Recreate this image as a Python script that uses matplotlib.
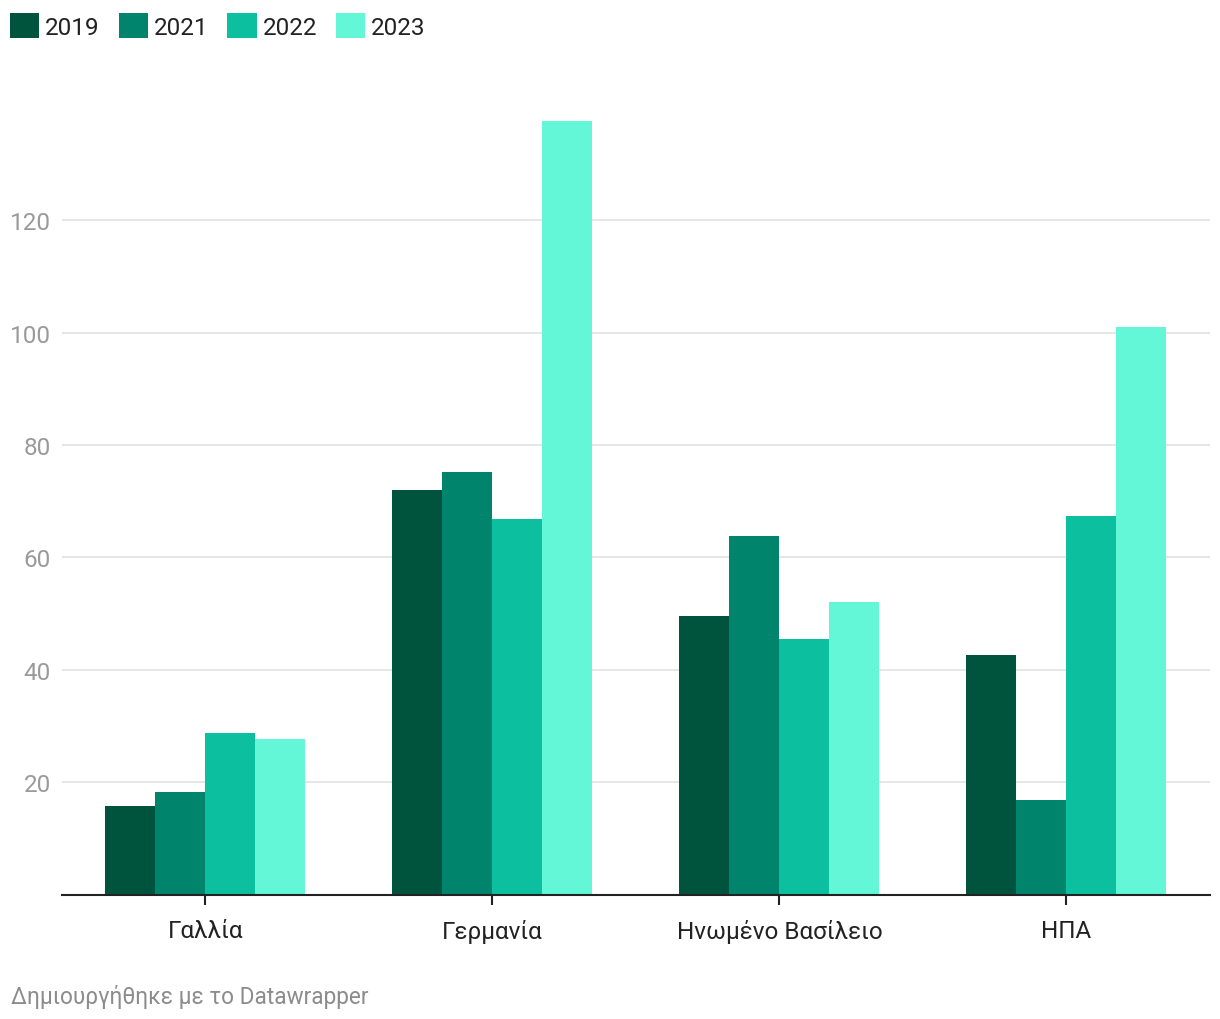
import numpy as np
import matplotlib.pyplot as plt

plt.rcParams["font.family"] = ["Roboto", "DejaVu Sans"]

categories = ["Γαλλία", "Γερμανία", "Ηνωμένο Βασίλειο", "ΗΠΑ"]
years = ["2019", "2021", "2022", "2023"]
values_2019 = [15.8, 72.0, 49.6, 42.7]
values_2021 = [18.3, 75.2, 63.8, 16.9]
values_2022 = [28.8, 66.8, 45.5, 67.4]
values_2023 = [27.7, 137.6, 52.1, 101.0]
y_ticks = [20, 40, 60, 80, 100, 120]

series = [values_2019, values_2021, values_2022, values_2023]
colors = ["#00543e", "#00846c", "#0bbf9f", "#63f6d7"]

fig = plt.figure(figsize=(12.2, 10.2), dpi=100)
ax = fig.add_axes([0.0508, 0.1216, 0.941, 0.772])

x = np.arange(len(categories))
width = 50 / 287
for i, (vals, col, yr) in enumerate(zip(series, colors, years)):
    ax.bar(x + (i - 1.5) * width, vals, width, color=col, label=yr, zorder=3)

ax.set_xlim(-0.5, len(categories) - 0.5)
ax.set_ylim(0, 140)
ax.set_yticks(y_ticks)
ax.set_yticklabels([str(t) for t in y_ticks])
ax.grid(axis="y", color="#e2e2e2", linewidth=1.2, zorder=0)
ax.tick_params(axis="y", length=0, pad=8, labelsize=17.5, labelcolor="#9a9a9a")
ax.set_xticks(x)
ax.set_xticklabels(categories)
ax.tick_params(axis="x", length=7, width=1.5, color="#222222", pad=10,
               labelsize=17.5, labelcolor="#222222")
for side in ["top", "right", "left"]:
    ax.spines[side].set_visible(False)
ax.spines["bottom"].set_color("#222222")
ax.spines["bottom"].set_linewidth(1.5)
ax.spines["bottom"].set_zorder(4)

ax.legend(loc="upper left", bbox_to_anchor=(-0.002, 0.998), bbox_transform=fig.transFigure,
          ncol=4, frameon=False, fontsize=17.5, handlelength=1.2, handleheight=1.2,
          handletextpad=0.25, columnspacing=0.78, borderaxespad=0.3, borderpad=0.2,
          labelcolor="#222222")

fig.text(0.009, 0.016, "Δημιουργήθηκε με το Datawrapper", fontsize=16.3, color="#8c8c8c")

fig.savefig("out.png", dpi=100, facecolor="white")
